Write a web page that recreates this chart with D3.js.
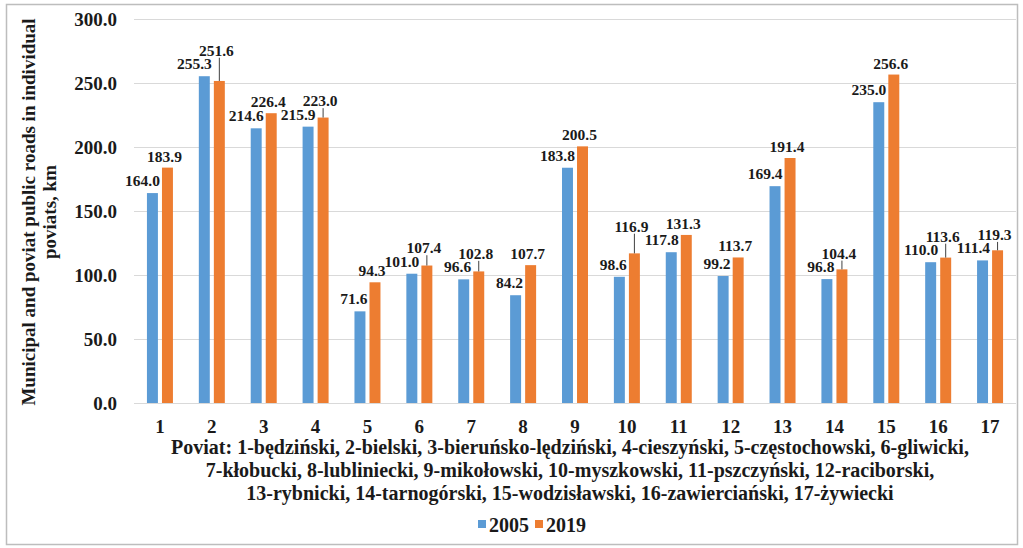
<!DOCTYPE html>
<html>
<head>
<meta charset="utf-8">
<script src="https://cdn.jsdelivr.net/npm/d3@7"></script>
<style>
  body { margin: 0; background: #fff; }
  text { font-family: "Liberation Serif", "Times New Roman", serif; font-weight: bold; fill: #1a1a1a; }
</style>
</head>
<body>
<div id="chart-area"></div>
<script>
const poviats = ["1", "2", "3", "4", "5", "6", "7", "8", "9", "10", "11", "12", "13", "14", "15", "16", "17"];
const years = ["2005", "2019"];
const roads2005 = [164.0, 255.3, 214.6, 215.9, 71.6, 101.0, 96.6, 84.2, 183.8, 98.6, 117.8, 99.2, 169.4, 96.8, 235.0, 110.0, 111.4];
const roads2019 = [183.9, 251.6, 226.4, 223.0, 94.3, 107.4, 102.8, 107.7, 200.5, 116.9, 131.3, 113.7, 191.4, 104.4, 256.6, 113.6, 119.3];
const yTicks = [0, 50, 100, 150, 200, 250, 300];
const captionLines = [
  "Poviat: 1-będziński, 2-bielski, 3-bieruńsko-lędziński, 4-cieszyński, 5-częstochowski, 6-gliwicki,",
  "7-kłobucki, 8-lubliniecki, 9-mikołowski, 10-myszkowski, 11-pszczyński, 12-raciborski,",
  "13-rybnicki, 14-tarnogórski, 15-wodzisławski, 16-zawierciański, 17-żywiecki"
];
const yTitle = ["Municipal and poviat public roads in individual", "poviats, km"];

const colors = { "2005": "#5b9bd5", "2019": "#ed7d31" };
const W = 1023, H = 548;
const plot = { left: 134, right: 1016, top: 19, bottom: 403 };

const svg = d3.select("#chart-area")
  .append("svg")
  .attr("width", W)
  .attr("height", H);

// outer frame
svg.append("rect")
  .attr("x", 6.5).attr("y", 4.5)
  .attr("width", 1011).attr("height", 540)
  .attr("fill", "#fff")
  .attr("stroke", "#bdbdbd")
  .attr("stroke-width", 1.5);

// Scales
const x = d3.scaleBand().domain(poviats).range([plot.left, plot.right]);
const groupW = 26;
const xSub = d3.scaleBand().domain(years).range([0, groupW]).paddingInner(0.27);
const y = d3.scaleLinear().domain([0, 300]).range([plot.bottom, plot.top]);

// gridlines
svg.append("g")
  .selectAll("line")
  .data(yTicks)
  .join("line")
  .attr("x1", plot.left).attr("x2", plot.right)
  .attr("y1", d => Math.round(y(d)) + 0.5)
  .attr("y2", d => Math.round(y(d)) + 0.5)
  .attr("stroke", "#d9d9d9")
  .attr("stroke-width", 1);

// Y axis labels
const yAxis = d3.axisLeft(y).tickValues(yTicks).tickFormat(d3.format(".1f")).tickSize(0).tickPadding(0);
const yAxisGroup = svg.append("g")
  .attr("transform", `translate(117,0)`)
  .call(yAxis);
yAxisGroup.select(".domain").remove();
yAxisGroup.selectAll("text")
  .attr("font-size", "19px")
  .attr("font-family", null)
  .attr("fill", "#1a1a1a");

// X axis labels
const xAxis = d3.axisBottom(x).tickSize(0).tickPadding(0);
const xAxisGroup = svg.append("g")
  .attr("transform", `translate(0,${plot.bottom + 16})`)
  .call(xAxis);
xAxisGroup.select(".domain").remove();
xAxisGroup.selectAll("text")
  .attr("font-size", "19px")
  .attr("font-family", null)
  .attr("fill", "#1a1a1a");

// Bars
const rows = poviats.map((p, i) => ({ p, v2005: roads2005[i], v2019: roads2019[i] }));
const groupOffset = (x.bandwidth() - groupW) / 2;

const groups = svg.append("g")
  .selectAll("g")
  .data(rows)
  .join("g")
  .attr("transform", d => `translate(${x(d.p) + groupOffset},0)`);

groups.selectAll("rect")
  .data(d => years.map(yr => ({ yr, v: d["v" + yr] })))
  .join("rect")
  .attr("x", d => xSub(d.yr))
  .attr("width", xSub.bandwidth())
  .attr("y", d => y(d.v))
  .attr("height", d => y(0) - y(d.v))
  .attr("fill", d => colors[d.yr]);

// Data labels: 2005 sit above-left of their bar, 2019 above their bar,
// pushed up (with a leader line) when they would hit a 2005 label
const fmt = d3.format(".1f");
const labelG = svg.append("g").attr("font-size", "15.5px");
const capH = 10.5;

const blueBoxes = [];
rows.forEach(d => {
  const gx = x(d.p) + groupOffset;
  const right = gx + xSub("2005") + xSub.bandwidth() + 2;
  const base = y(d.v2005) - 7;
  const t = labelG.append("text")
    .attr("x", right)
    .attr("y", base)
    .attr("text-anchor", "end")
    .text(fmt(d.v2005));
  const w = t.node().getComputedTextLength();
  blueBoxes.push({ x0: right - w, x1: right, y0: base - capH, y1: base + 1 });
});

const overlaps = (a, b) =>
  Math.min(a.x1, b.x1) - Math.max(a.x0, b.x0) > 2 &&
  Math.min(a.y1, b.y1) - Math.max(a.y0, b.y0) > 2;

rows.forEach(d => {
  const gx = x(d.p) + groupOffset;
  const cx = gx + xSub("2019") + xSub.bandwidth() / 2;
  const top = y(d.v2019);
  const lx = cx - 3;
  let base = top - 6;
  const t = labelG.append("text")
    .attr("x", lx)
    .attr("text-anchor", "middle")
    .text(fmt(d.v2019));
  const w = t.node().getComputedTextLength();
  let moved = true;
  while (moved) {
    moved = false;
    const box = { x0: lx - w / 2, x1: lx + w / 2, y0: base - capH, y1: base + 1 };
    for (const b of blueBoxes) {
      if (overlaps(box, b)) {
        base = b.y0 - 3;
        moved = true;
        break;
      }
    }
  }
  t.attr("y", base);
  if (top - 6 - base > 4) {
    labelG.append("line")
      .attr("x1", cx).attr("x2", cx)
      .attr("y1", base + 2).attr("y2", top)
      .attr("stroke", "#404040")
      .attr("stroke-width", 1);
  }
});

// Y axis title
const yt = svg.append("text")
  .attr("transform", "translate(35,212) rotate(-90)")
  .attr("text-anchor", "middle")
  .attr("font-size", "19px");
yt.selectAll("tspan")
  .data(yTitle)
  .join("tspan")
  .attr("x", 0)
  .attr("dy", (d, i) => i === 0 ? 0 : 21)
  .text(d => d);

// Caption under axis
svg.append("g")
  .selectAll("text")
  .data(captionLines)
  .join("text")
  .attr("x", 570)
  .attr("y", (d, i) => 454 + i * 23)
  .attr("text-anchor", "middle")
  .attr("font-size", "20px")
  .text(d => d);

// Legend
const legend = svg.append("g").attr("transform", "translate(478,532)");
const legendItems = legend.selectAll("g")
  .data(years)
  .join("g")
  .attr("transform", (d, i) => `translate(${i * 57},0)`);
legendItems.append("rect")
  .attr("x", 0).attr("y", -12)
  .attr("width", 8).attr("height", 8)
  .attr("fill", d => colors[d]);
legendItems.append("text")
  .attr("x", 11)
  .attr("y", 0)
  .attr("font-size", "20px")
  .text(d => d);
</script>
</body>
</html>
